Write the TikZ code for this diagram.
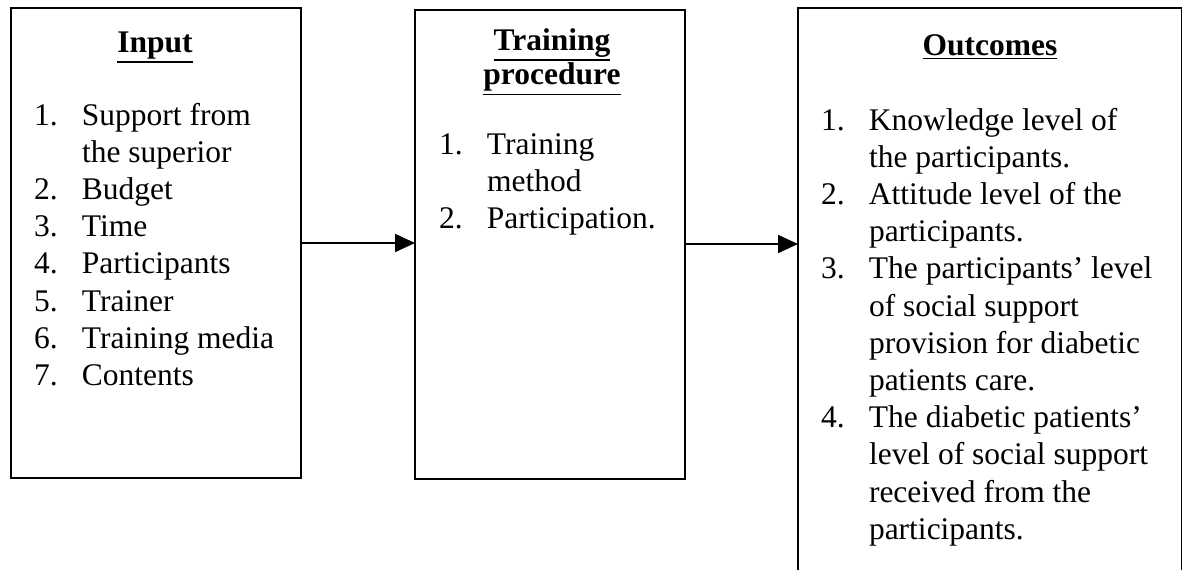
\documentclass[tikz,border=0pt]{standalone}
\usepackage{fontspec}
\setmainfont{Liberation Serif}
\usetikzlibrary{arrows.meta}

\newcommand{\hdline}[1]{\setbox0\hbox{#1}\rlap{\rule[-\dimexpr\dp0+2pt\relax]{\wd0}{0.9pt}}\box0}

\begin{document}
\begin{tikzpicture}[x=0.5pt,y=-0.5pt,>={Triangle[length=10pt,width=9pt]},line width=1pt,
  box node/.style={rectangle,draw,inner sep=0pt,outer sep=0pt},
  head node/.style={inner sep=0pt,anchor=base,font=\fontsize{15.75}{17}\selectfont\bfseries},
  list node/.style={inner sep=0pt,anchor=base west,font=\fontsize{15.75}{18.6}\selectfont}]

            \path[use as bounding box,fill=white] (0,0) rectangle (1182,569);
            \clip (0,0) rectangle (1182,569);

            \node[box node,minimum width=145pt,minimum height=235pt] (1) at (156,243) {};
            \node[box node,minimum width=135pt,minimum height=234.5pt] (2) at (550,244) {};
            \node[box node,minimum width=192pt,minimum height=306pt] (3) at (990,314) {};

            \node[head node] (input) at (155,52) {\hdline{Input}};
            \node[head node] (proc) at (552,50) {\begin{tabular}[t]{@{}c@{}}\hdline{Training}\\\hdline{procedure}\end{tabular}};
            \node[head node] (outcome) at (990,55) {\hdline{Outcomes}};

            \node[list node] (inputlist) at (33,125) {\begin{tabular}[t]{@{}p{24pt}@{}l@{}}
                1. & Support from\\
                   & the superior\\
                2. & Budget\\
                3. & Time\\
                4. & Participants\\
                5. & Trainer\\
                6. & Training media\\
                7. & Contents
            \end{tabular}};
            \node[list node] (proclist) at (438,154) {\begin{tabular}[t]{@{}p{24pt}@{}l@{}}
                1. & Training\\
                   & method\\
                2. & Participation.
            \end{tabular}};
            \node[list node] (outcomelist) at (820,130) {\begin{tabular}[t]{@{}p{24pt}@{}l@{}}
                1. & Knowledge level of\\
                   & the participants.\\
                2. & Attitude level of the\\
                   & participants.\\
                3. & The participants' level\\
                   & of social support\\
                   & provision for diabetic\\
                   & patients care.\\
                4. & The diabetic patients'\\
                   & level of social support\\
                   & received from the\\
                   & participants.
            \end{tabular}};

            \draw[->] (1.east) to (1.east -| 2.west);
            \draw[->] (2.east) to (2.east -| 3.west);

            ;
        \end{tikzpicture}
\end{document}
